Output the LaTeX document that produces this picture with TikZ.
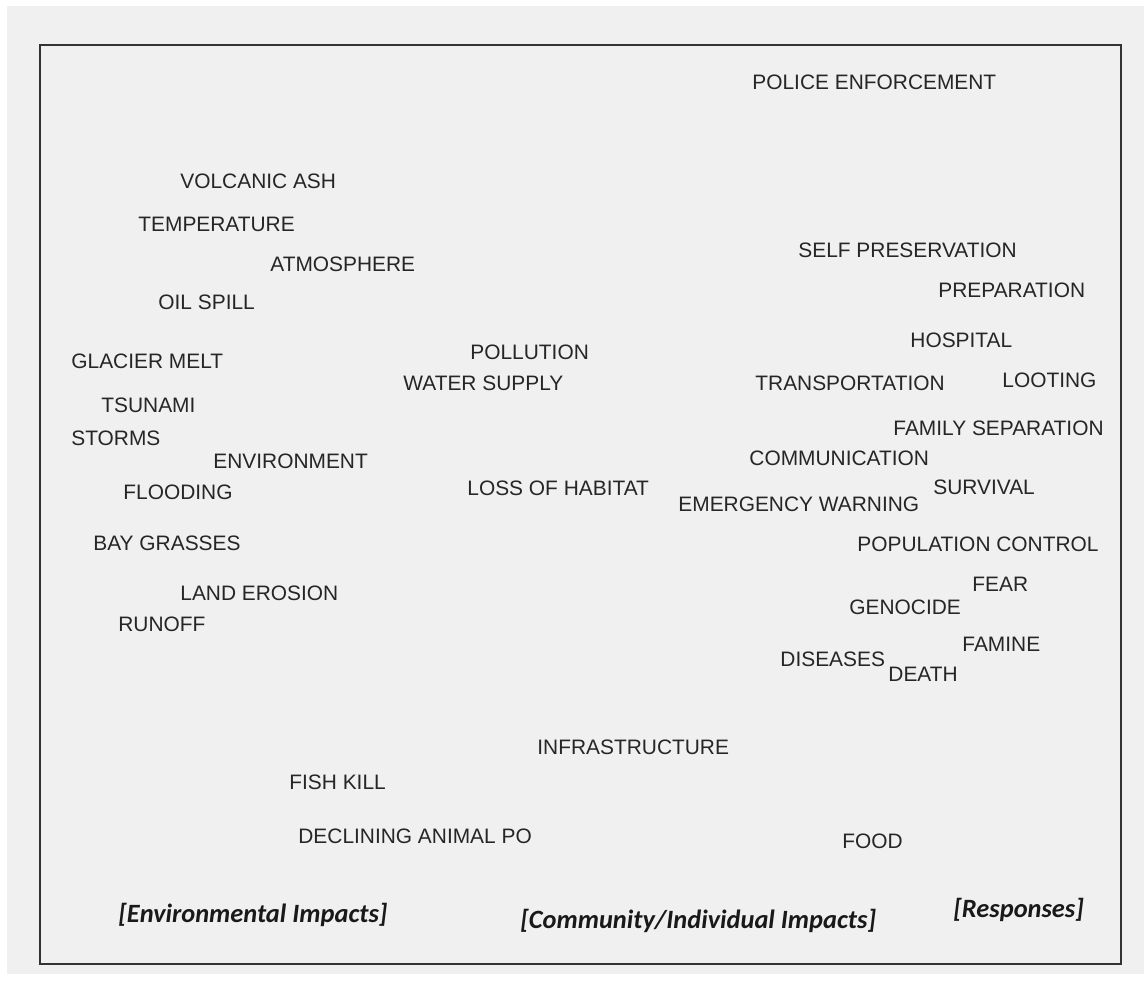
\documentclass[tikz,border=0pt]{standalone}
\usepackage{fontspec}
\setmainfont{Liberation Sans}
\newfontfamily\headfont{Carlito}
\definecolor{panel}{HTML}{F0F0F0}
\definecolor{ink}{HTML}{262626}
\begin{document}
\begin{tikzpicture}[
				x=0.5pt, y=-0.5pt,
				term/.style={anchor=west, inner sep=0pt, text=ink, font=\fontsize{10.45}{12}\selectfont},
				group/.style={anchor=west, inner sep=0pt, text=black!90, font=\headfont\bfseries\itshape\fontsize{13.2}{15}\selectfont},
				frame/.style={draw=black!80, line width=1pt}
				]
				\useasboundingbox (0,0) rectangle (1144,981);
				\fill[white] (0,0) rectangle (1144,981);
				\fill[panel] (7,6) rectangle (1144,974);
				\draw[frame] (40,45) rectangle (1121,964);
				
				% environmental terms (left column)
				\node[term] (volcanic) at (180,181) {VOLCANIC ASH};
				\node[term] (temperature) at (138,224) {TEMPERATURE};
				\node[term] (atmosphere) at (270,264) {ATMOSPHERE};
				\node[term] (oilspill) at (158,302) {OIL SPILL};
				\node[term] (glacier) at (71,361) {GLACIER MELT};
				\node[term] (tsunami) at (101,405) {TSUNAMI};
				\node[term] (storms) at (71,438) {STORMS};
				\node[term] (environment) at (213,461) {ENVIRONMENT};
				\node[term] (flooding) at (123,492) {FLOODING};
				\node[term] (baygrass) at (93,543) {BAY GRASSES};
				\node[term] (erosion) at (180,593) {LAND EROSION};
				\node[term] (runoff) at (118,624) {RUNOFF};
				\node[term] (fishkill) at (289,782) {FISH KILL};
				\node[term] (declining) at (298,836) {DECLINING ANIMAL PO};
				
				% community / individual terms (middle)
				\node[term] (pollution) at (470,352) {POLLUTION};
				\node[term] (water) at (403,383) {WATER SUPPLY};
				\node[term] (habitat) at (467,488) {LOSS OF HABITAT};
				\node[term] (infra) at (537,747) {INFRASTRUCTURE};
				
				% response terms (right column)
				\node[term] (police) at (752,82) {POLICE ENFORCEMENT};
				\node[term] (selfpres) at (798,250) {SELF PRESERVATION};
				\node[term] (prep) at (938,290) {PREPARATION};
				\node[term] (hospital) at (910,340) {HOSPITAL};
				\node[term] (transport) at (755,383) {TRANSPORTATION};
				\node[term] (looting) at (1002,380) {LOOTING};
				\node[term] (family) at (893,428) {FAMILY SEPARATION};
				\node[term] (comm) at (749,458) {COMMUNICATION};
				\node[term] (survival) at (933,487) {SURVIVAL};
				\node[term] (warning) at (678,504) {EMERGENCY WARNING};
				\node[term] (popctrl) at (857,544) {POPULATION CONTROL};
				\node[term] (fear) at (972,584) {FEAR};
				\node[term] (genocide) at (849,607) {GENOCIDE};
				\node[term] (famine) at (962,644) {FAMINE};
				\node[term] (diseases) at (780,659) {DISEASES};
				\node[term] (death) at (888,674) {DEATH};
				\node[term] (food) at (842,841) {FOOD};
				
				% group headings along the bottom
				\node[group] (envhead) at (118,915) {[Environmental Impacts]};
				\node[group] (commhead) at (520,921) {[Community/Individual Impacts]};
				\node[group] (resphead) at (953,910) {[Responses]};
			\end{tikzpicture}
\end{document}
